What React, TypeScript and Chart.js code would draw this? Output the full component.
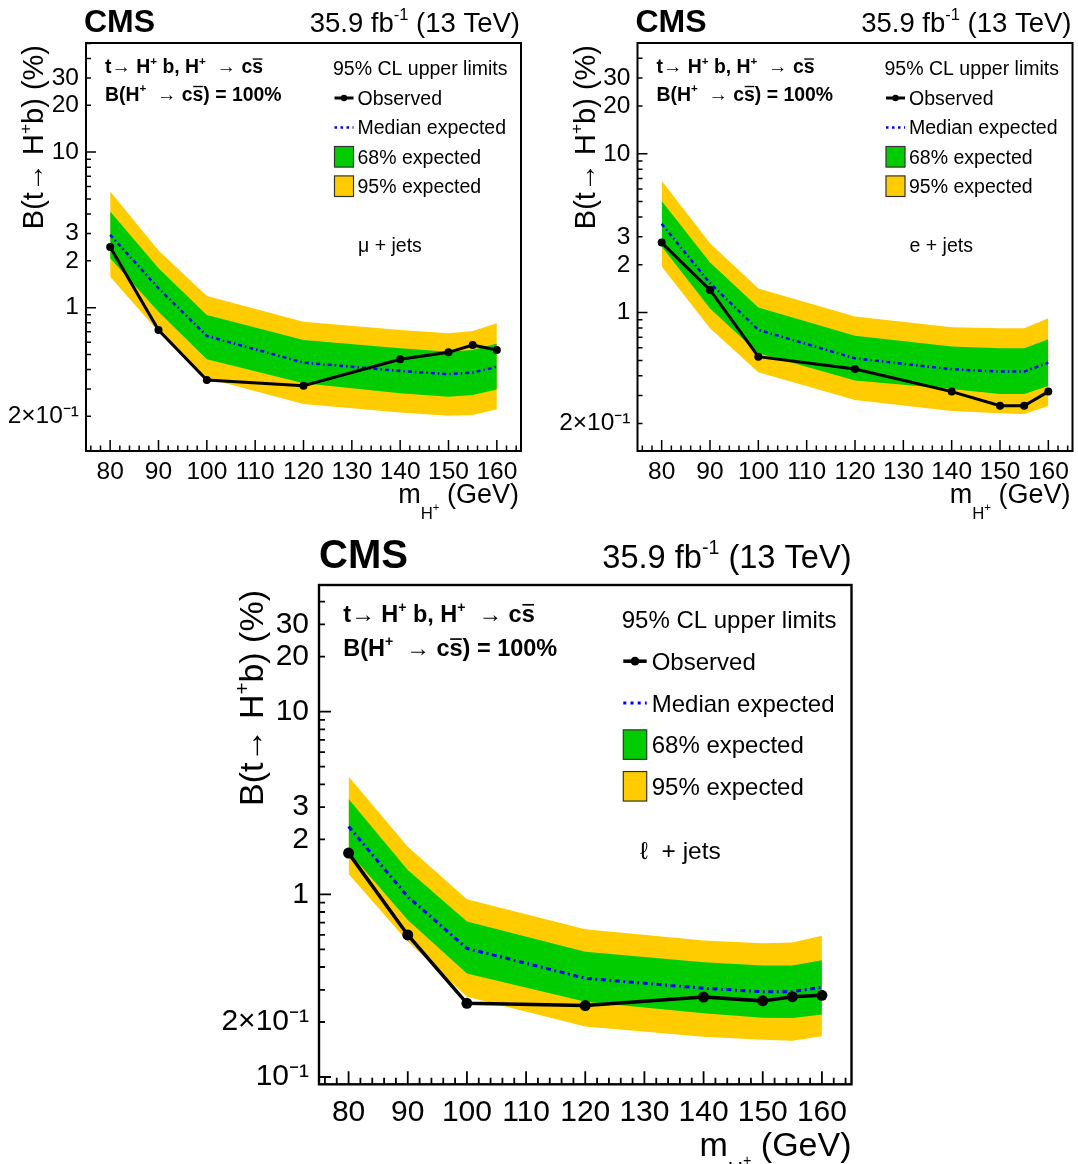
import React, { useEffect, useRef } from "react";
import { Chart, registerables } from "chart.js";

Chart.register(...registerables);

const FONT = '"Liberation Sans", Arial, Helvetica, sans-serif';
Chart.defaults.font.family = FONT;
Chart.defaults.color = "#000";

// ---------------- data ----------------
const masses = [80, 90, 100, 120, 140, 150, 155, 160];

// mu + jets
const muObserved = [2.45, 0.718, 0.342, 0.315, 0.465, 0.516, 0.575, 0.534];
const muMedian = [2.94, 1.33, 0.657, 0.443, 0.391, 0.374, 0.382, 0.417];
const muUp68 = [4.15, 1.79, 0.897, 0.619, 0.547, 0.521, 0.534, 0.589];
const muDown68 = [2.08, 0.942, 0.465, 0.326, 0.281, 0.267, 0.274, 0.298];
const muUp95 = [5.58, 2.33, 1.19, 0.812, 0.718, 0.684, 0.708, 0.793];
const muDown95 = [1.58, 0.7, 0.351, 0.24, 0.212, 0.202, 0.204, 0.222];

// e + jets
const eObserved = [2.76, 1.39, 0.528, 0.441, 0.318, 0.259, 0.259, 0.318];
const eMedian = [3.62, 1.53, 0.778, 0.515, 0.44, 0.425, 0.425, 0.484];
const eUp68 = [5.05, 2.07, 1.075, 0.716, 0.611, 0.596, 0.596, 0.679];
const eDown68 = [2.61, 1.06, 0.554, 0.373, 0.33, 0.307, 0.307, 0.345];
const eUp95 = [6.76, 2.73, 1.42, 0.944, 0.809, 0.797, 0.797, 0.921];
const eDown95 = [1.95, 0.797, 0.421, 0.282, 0.24, 0.232, 0.23, 0.258];

// l + jets
const lObserved = [1.68, 0.599, 0.253, 0.246, 0.274, 0.261, 0.275, 0.28];
const lMedian = [2.35, 0.971, 0.506, 0.347, 0.306, 0.293, 0.293, 0.31];
const lUp68 = [3.32, 1.36, 0.709, 0.485, 0.424, 0.407, 0.407, 0.436];
const lDown68 = [1.71, 0.724, 0.369, 0.258, 0.223, 0.211, 0.21, 0.22];
const lUp95 = [4.41, 1.82, 0.939, 0.643, 0.558, 0.539, 0.544, 0.593];
const lDown95 = [1.29, 0.551, 0.275, 0.189, 0.166, 0.16, 0.158, 0.167];

const xTickValues = [80, 90, 100, 110, 120, 130, 140, 150, 160];
const yTickValues = [0.1, 0.2, 1, 2, 3, 10, 20, 30];
const yTickLabels = ["10⁻¹", "2×10⁻¹", "1", "2", "3", "10", "20", "30"];

const legendHeader = "95% CL upper limits";
const legendLabels = ["Observed", "Median expected", "68% expected", "95% expected"];

// ---------------- text helpers ----------------
type Seg = { t: string; k?: number; dy?: number; over?: boolean };

const lumiSegs: Seg[] = [{ t: "35.9 fb" }, { t: "-1", k: 0.6, dy: -0.42 }, { t: " (13 TeV)" }];
const xTitleSegs: Seg[] = [{ t: "m" }, { t: "H", k: 0.62, dy: 0.6 }, { t: "+", k: 0.42, dy: 0.28 }, { t: " (GeV)" }];
const yTitleSegs: Seg[] = [{ t: "B(t→ H" }, { t: "+", k: 0.6, dy: -0.42 }, { t: "b) (%)" }];
const proc1Segs: Seg[] = [
  { t: "t→ H" }, { t: "+", k: 0.6, dy: -0.42 }, { t: " b, H" }, { t: "+", k: 0.6, dy: -0.42 },
  { t: "  → c" }, { t: "s", over: true },
];
const proc2Segs: Seg[] = [
  { t: "B(H" }, { t: "+", k: 0.6, dy: -0.42 }, { t: "  → c" }, { t: "s", over: true }, { t: ") = 100%" },
];

function segFont(size: number, k: number | undefined, weight: string) {
  return `${weight} ${size * (k ?? 1)}px ${FONT}`;
}

function drawRich(
  ctx: CanvasRenderingContext2D, segs: Seg[], x: number, y: number, size: number,
  weight = "normal", align: "left" | "right" = "left"
) {
  const widths = segs.map((s) => {
    ctx.font = segFont(size, s.k, weight);
    return ctx.measureText(s.t).width;
  });
  const total = widths.reduce((a, b) => a + b, 0);
  let cx = align === "right" ? x - total : x;
  ctx.textAlign = "left";
  ctx.textBaseline = "alphabetic";
  segs.forEach((s, i) => {
    const fs = size * (s.k ?? 1);
    ctx.font = segFont(size, s.k, weight);
    const yy = y + (s.dy ?? 0) * size;
    ctx.fillText(s.t, cx, yy);
    if (s.over) {
      ctx.save();
      ctx.lineWidth = Math.max(1, fs * 0.07);
      ctx.beginPath();
      const oy = yy - fs * 0.72;
      ctx.moveTo(cx + fs * 0.03, oy);
      ctx.lineTo(cx + widths[i] - fs * 0.03, oy);
      ctx.stroke();
      ctx.restore();
    }
    cx += widths[i];
  });
}

// ---------------- layout / styles ----------------
type Style = {
  tickSize: number; xTickPad: number; yTickPad: number;
  frameW: number; tickW: number; majY: number; minY: number; majX: number; minX: number;
  cmsSize: number; cmsDx: number; headDy: number; lumiSize: number; lumiDx: number;
  xTitleSize: number; xTitleDy: number; xTitleDx: number;
  yTitleSize: number; yTitleDx: number; yTitleDy: number;
  procSize: number; procDx: number; proc1Dy: number; proc2Dy: number;
  legSize: number; legHeadDx: number; legHeadDy: number; legSymX0: number; legSymX1: number;
  legTextDx: number; legRow0: number; legRowDy: number; legBoxH: number; legMid: number;
  chanSize: number; chanDx: number; chanDy: number;
  obsW: number; markR: number; medW: number; dash: number[];
};

const smallStyle: Style = {
  tickSize: 24.5, xTickPad: 6.5, yTickPad: 7,
  frameW: 2, tickW: 1.5, majY: 10, minY: 5, majX: 11, minX: 5.5,
  cmsSize: 32, cmsDx: -2, headDy: -11.5, lumiSize: 27.5, lumiDx: -1,
  xTitleSize: 27, xTitleDy: 52, xTitleDx: -2,
  yTitleSize: 29, yTitleDx: -43, yTitleDy: 2,
  procSize: 19.4, procDx: 19, proc1Dy: 30, proc2Dy: 57.5,
  legSize: 19.5, legHeadDx: 247, legHeadDy: 32, legSymX0: 248.5, legSymX1: 267.5,
  legTextDx: 271.5, legRow0: 62, legRowDy: 29.4, legBoxH: 20.6, legMid: 7,
  chanSize: 19.5, chanDx: 272, chanDy: 208.5,
  obsW: 3, markR: 4, medW: 2.5, dash: [4, 3, 1.5, 3],
};

const bigStyle: Style = {
  tickSize: 30, xTickPad: 10, yTickPad: 10,
  frameW: 2.4, tickW: 1.8, majY: 12, minY: 6, majX: 13, minX: 6.5,
  cmsSize: 40, cmsDx: 0, headDy: -17.3, lumiSize: 32.6, lumiDx: 0,
  xTitleSize: 34, xTitleDy: 71.5, xTitleDx: 0,
  yTitleSize: 34, yTitleDx: -56, yTitleDy: 5,
  procSize: 23.5, procDx: 24.3, proc1Dy: 36.7, proc2Dy: 71,
  legSize: 24, legHeadDx: 302.7, legHeadDy: 43.3, legSymX0: 304.3, legSymX1: 327.7,
  legTextDx: 332.7, legRow0: 85, legRowDy: 41.7, legBoxH: 29.5, legMid: 8.8,
  chanSize: 24.5, chanDx: 321, chanDy: 274,
  obsW: 3.5, markR: 5.5, medW: 3, dash: [5, 3.5, 2, 3.5],
};

type PanelCfg = {
  key: string;
  left: number; top: number; width: number; height: number;
  area: { l: number; t: number; r: number; b: number };
  yMin: number; yMax: number;
  observed: number[]; median: number[];
  up68: number[]; down68: number[]; up95: number[]; down95: number[];
  channel: Seg[];
  st: Style;
};

const panels: PanelCfg[] = [
  {
    key: "mu", left: 0, top: 0, width: 540, height: 525,
    area: { l: 86, t: 43, r: 521, b: 451 }, yMin: 0.1197, yMax: 50.3,
    observed: muObserved, median: muMedian, up68: muUp68, down68: muDown68, up95: muUp95, down95: muDown95,
    channel: [{ t: "μ + jets" }], st: smallStyle,
  },
  {
    key: "e", left: 540, top: 0, width: 538, height: 525,
    area: { l: 97.5, t: 43, r: 532.5, b: 451 }, yMin: 0.1344, yMax: 49.85,
    observed: eObserved, median: eMedian, up68: eUp68, down68: eDown68, up95: eUp95, down95: eDown95,
    channel: [{ t: "e + jets" }], st: smallStyle,
  },
  {
    key: "l", left: 200, top: 525, width: 660, height: 639,
    area: { l: 119, t: 60, r: 651.5, b: 559.3 }, yMin: 0.0912, yMax: 49.3,
    observed: lObserved, median: lMedian, up68: lUp68, down68: lDown68, up95: lUp95, down95: lDown95,
    channel: [{ t: "ℓ  + jets" }], st: bigStyle,
  },
];

const GREEN = "#00cc00";
const YELLOW = "#ffcc00";
const BLUE = "#0000ff";

function pts(arr: number[]) {
  return masses.map((m, i) => ({ x: m, y: arr[i] }));
}

function makeDecor(cfg: PanelCfg) {
  const st = cfg.st;
  return {
    id: "rootDecor_" + cfg.key,
    afterDraw(chart: any) {
      const ctx: CanvasRenderingContext2D = chart.ctx;
      const { left: L, top: T, right: R, bottom: B } = chart.chartArea;
      const xs = chart.scales.x;
      const ys = chart.scales.y;
      ctx.save();
      ctx.fillStyle = "#000";
      ctx.strokeStyle = "#000";
      ctx.setLineDash([]);

      // tick marks (inside frame)
      ctx.lineWidth = st.tickW;
      ctx.beginPath();
      for (let d = -2; d <= 2; d++) {
        for (let m = 1; m <= 9; m++) {
          const v = m * Math.pow(10, d);
          if (v < cfg.yMin || v > cfg.yMax) continue;
          const py = ys.getPixelForValue(v);
          const len = m === 1 ? st.majY : st.minY;
          ctx.moveTo(L, py);
          ctx.lineTo(L + len, py);
        }
      }
      for (let v = 76; v <= 164; v += 2) {
        const px = xs.getPixelForValue(v);
        const len = v % 10 === 0 ? st.majX : st.minX;
        ctx.moveTo(px, B);
        ctx.lineTo(px, B - len);
      }
      ctx.stroke();

      // frame
      ctx.lineWidth = st.frameW;
      ctx.strokeRect(L, T, R - L, B - T);

      // header
      drawRich(ctx, [{ t: "CMS" }], L + st.cmsDx, T + st.headDy, st.cmsSize, "bold");
      drawRich(ctx, lumiSegs, R + st.lumiDx, T + st.headDy, st.lumiSize, "normal", "right");

      // axis titles
      drawRich(ctx, xTitleSegs, R + st.xTitleDx, B + st.xTitleDy, st.xTitleSize, "normal", "right");
      ctx.save();
      ctx.translate(L + st.yTitleDx, T + st.yTitleDy);
      ctx.rotate(-Math.PI / 2);
      drawRich(ctx, yTitleSegs, 0, 0, st.yTitleSize, "normal", "right");
      ctx.restore();

      // process text
      drawRich(ctx, proc1Segs, L + st.procDx, T + st.proc1Dy, st.procSize, "bold");
      drawRich(ctx, proc2Segs, L + st.procDx, T + st.proc2Dy, st.procSize, "bold");

      // legend
      drawRich(ctx, [{ t: legendHeader }], L + st.legHeadDx, T + st.legHeadDy, st.legSize);
      const x0 = L + st.legSymX0;
      const x1 = L + st.legSymX1;
      legendLabels.forEach((lab, i) => {
        const by = T + st.legRow0 + i * st.legRowDy;
        const cy = by - st.legMid;
        ctx.save();
        if (i === 0) {
          ctx.strokeStyle = "#000";
          ctx.lineWidth = st.obsW;
          ctx.beginPath();
          ctx.moveTo(x0, cy);
          ctx.lineTo(x1, cy);
          ctx.stroke();
          ctx.beginPath();
          ctx.arc((x0 + x1) / 2, cy, st.markR * 0.8, 0, Math.PI * 2);
          ctx.fill();
        } else if (i === 1) {
          ctx.strokeStyle = BLUE;
          ctx.lineWidth = st.medW;
          ctx.setLineDash([st.medW, st.medW * 1.4]);
          ctx.beginPath();
          ctx.moveTo(x0, cy);
          ctx.lineTo(x1, cy);
          ctx.stroke();
        } else {
          ctx.fillStyle = i === 2 ? GREEN : YELLOW;
          const h = st.legBoxH;
          ctx.fillRect(x0, cy - h / 2, x1 - x0, h);
          ctx.strokeStyle = "#333";
          ctx.lineWidth = 1.2;
          ctx.strokeRect(x0, cy - h / 2, x1 - x0, h);
        }
        ctx.restore();
        drawRich(ctx, [{ t: lab }], L + st.legTextDx, by, st.legSize);
      });

      // channel label
      drawRich(ctx, cfg.channel, L + st.chanDx, T + st.chanDy, st.chanSize);
      ctx.restore();
    },
  };
}

function buildConfig(cfg: PanelCfg): any {
  const st = cfg.st;
  const band = (data: number[], color: string, fill: any, order: number) => ({
    data: pts(data),
    borderColor: "rgba(0,0,0,0)",
    borderWidth: 1,
    backgroundColor: color,
    pointRadius: 0,
    fill,
    order,
    tension: 0,
  });
  return {
    type: "line",
    data: {
      datasets: [
        { label: "95% up", ...band(cfg.up95, YELLOW, "+1", 4) },
        { label: "95% down", ...band(cfg.down95, YELLOW, false, 4) },
        { label: "68% up", ...band(cfg.up68, GREEN, "+1", 3) },
        { label: "68% down", ...band(cfg.down68, GREEN, false, 3) },
        {
          label: "Median expected", data: pts(cfg.median), borderColor: BLUE, borderWidth: st.medW,
          borderDash: st.dash, pointRadius: 0, fill: false, order: 2, tension: 0,
        },
        {
          label: "Observed", data: pts(cfg.observed), borderColor: "#000", borderWidth: st.obsW,
          pointRadius: st.markR, pointBackgroundColor: "#000", pointBorderColor: "#000", pointBorderWidth: 0,
          fill: false, order: 1, tension: 0,
        },
      ],
    },
    options: {
      animation: false,
      responsive: false,
      maintainAspectRatio: false,
      events: [],
      layout: {
        autoPadding: false,
        padding: { left: 0, top: cfg.area.t, right: cfg.width - cfg.area.r, bottom: 0 },
      },
      plugins: { legend: { display: false }, tooltip: { enabled: false }, title: { display: false } },
      scales: {
        x: {
          type: "linear", min: 75, max: 165,
          grid: { display: false, drawTicks: false }, border: { display: false },
          afterBuildTicks: (s: any) => { s.ticks = xTickValues.map((v) => ({ value: v })); },
          afterFit: (s: any) => { s.height = cfg.height - cfg.area.b; },
          ticks: {
            font: { size: st.tickSize, family: FONT }, color: "#000", padding: st.xTickPad,
            maxRotation: 0, minRotation: 0, autoSkip: false,
            callback: (v: any) => String(v),
          },
        },
        y: {
          type: "logarithmic", min: cfg.yMin, max: cfg.yMax,
          grid: { display: false, drawTicks: false }, border: { display: false },
          afterBuildTicks: (s: any) => {
            s.ticks = yTickValues.filter((v) => v >= cfg.yMin && v <= cfg.yMax).map((v) => ({ value: v }));
          },
          afterFit: (s: any) => { s.width = cfg.area.l; },
          ticks: {
            font: { size: st.tickSize, family: FONT }, color: "#000", padding: st.yTickPad, autoSkip: false,
            callback: (v: any) => {
              const n = Number(v);
              const i = yTickValues.findIndex((t) => Math.abs(t - n) < t * 1e-6);
              return i >= 0 ? yTickLabels[i] : "";
            },
          },
        },
      },
    },
    plugins: [makeDecor(cfg)],
  };
}

function Panel({ cfg }: { cfg: PanelCfg }) {
  const ref = useRef<HTMLCanvasElement>(null);
  useEffect(() => {
    const canvas = ref.current;
    if (!canvas) return;
    const chart = new Chart(canvas, buildConfig(cfg));
    return () => chart.destroy();
  }, [cfg]);
  return (
    <canvas
      ref={ref}
      width={cfg.width}
      height={cfg.height}
      style={{ position: "absolute", left: cfg.left, top: cfg.top, width: cfg.width, height: cfg.height }}
    />
  );
}

export default function App() {
  useEffect(() => {
    document.body.style.margin = "0";
  }, []);
  return (
    <div style={{ position: "relative", width: 1078, height: 1164, background: "#fff", overflow: "hidden" }}>
      {panels.map((p) => (
        <Panel key={p.key} cfg={p} />
      ))}
    </div>
  );
}
